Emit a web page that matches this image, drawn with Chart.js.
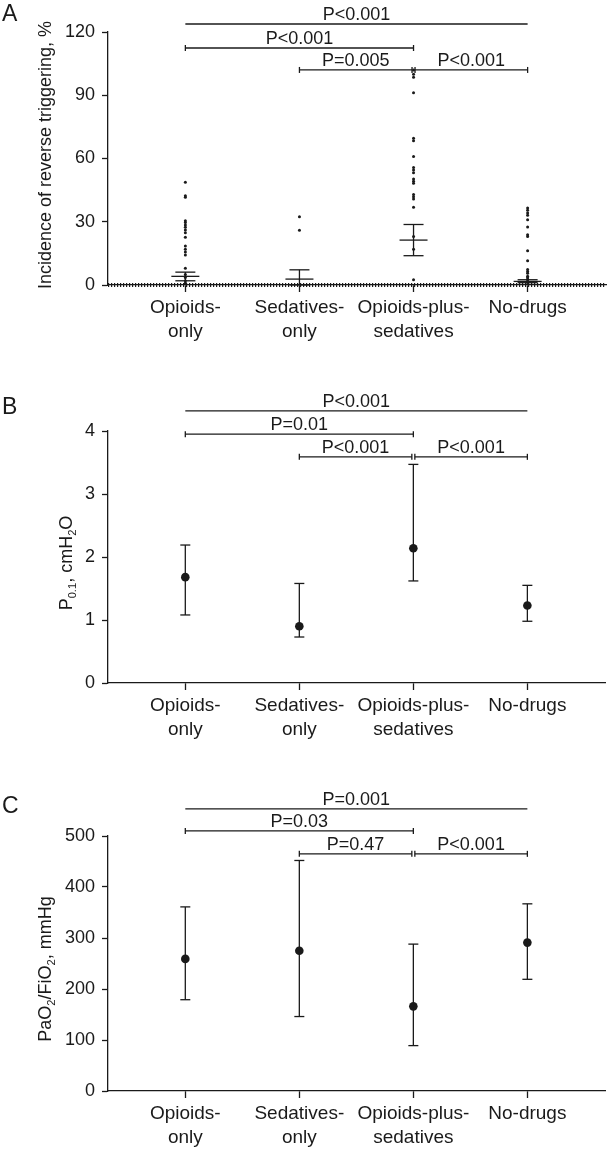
<!DOCTYPE html>
<html>
<head>
<meta charset="utf-8">
<script src="https://cdn.jsdelivr.net/npm/chart.js@4.4.0/dist/chart.umd.min.js"></script>
<style>
  body { margin: 0; background: #fff; width: 610px; height: 1151px; position: relative; overflow: hidden; }
  canvas { position: absolute; left: 0; }
</style>
</head>
<body>
<canvas id="chartA" width="610" height="350" style="top:0px"></canvas>
<canvas id="chartB" width="610" height="400" style="top:360px"></canvas>
<canvas id="chartC" width="610" height="391" style="top:760px"></canvas>
<script>
const groups = [["Opioids-", "only"], ["Sedatives-", "only"], ["Opioids-plus-", "sedatives"], ["No-drugs"]];

// A - incidence of reverse triggering, % (non-zero patients; zeros sit on the axis)
const rtOpioids = [48.7, 42.3, 41.6, 30.5, 29.6, 28.5, 27.4, 26.1, 24.8, 22.7, 18.5, 17, 15.7, 14.2, 8, 5, 3.5, 2, 1];
const rtSedatives = [32.4, 26];
const rtCombined = [102, 100, 98.5, 91.2, 69.6, 68.4, 60.9, 55.7, 54.5, 53.2, 50.3, 49.2, 48.3, 42.9, 41.8, 40.8, 36.9, 23, 17, 2.5];
const rtNoDrugs = [36.5, 35.4, 34.2, 33.1, 30.9, 27.5, 23.8, 23, 16.3, 11.5, 7.3, 6.4, 5.6, 4.2, 3.4, 2.6, 1.8, 1.2];
const rtMid = [4.1, 2.8, 21.3, 1.7];
const rtLow = [2.0, 0, 13.9, 1.1];
const rtHigh = [6.1, 7.2, 28.7, 2.5];
const rtTicks = [0, 30, 60, 90, 120];

// B - P0.1, cmH2O
const p01Mean = [1.68, 0.9, 2.14, 1.23];
const p01Low = [1.08, 0.73, 1.62, 0.98];
const p01High = [2.19, 1.58, 3.47, 1.55];
const p01Ticks = [0, 1, 2, 3, 4];

// C - PaO2/FiO2, mmHg
const pfMean = [259, 275, 166, 291];
const pfLow = [179, 146, 89, 219];
const pfHigh = [361, 452, 288, 367];
const pfTicks = [0, 100, 200, 300, 400, 500];

// significance brackets: [from group, to group, level, label]
const rtPvals = [[1, 4, 123.8, "P<0.001"], [1, 3, 112.4, "P<0.001"], [2, 3, 102, "P=0.005"], [3, 4, 102, "P<0.001"]];
const p01Pvals = [[1, 4, 4.32, "P<0.001"], [1, 3, 3.95, "P=0.01"], [2, 3, 3.59, "P<0.001"], [3, 4, 3.59, "P<0.001"]];
const pfPvals = [[1, 4, 553, "P=0.001"], [1, 3, 510, "P=0.03"], [2, 3, 465, "P=0.47"], [3, 4, 465, "P<0.001"]];

const FONT = "'Liberation Sans', Arial, Helvetica, sans-serif";
const INK = "#1a1a1a";

function line(ctx, x1, y1, x2, y2) {
  ctx.beginPath();
  ctx.moveTo(x1, y1);
  ctx.lineTo(x2, y2);
  ctx.stroke();
}

// title with subscript pieces: [[text, isSub], ...], rotated
function drawTitle(ctx, parts, cx, cy, size) {
  ctx.save();
  ctx.translate(cx, cy);
  ctx.rotate(-Math.PI / 2);
  const subSize = size * 0.62;
  let w = 0;
  parts.forEach(([t, sub]) => {
    ctx.font = (sub ? subSize : size) + "px " + FONT;
    w += ctx.measureText(t).width;
  });
  let xx = -w / 2;
  ctx.textBaseline = "alphabetic";
  ctx.textAlign = "left";
  parts.forEach(([t, sub]) => {
    ctx.font = (sub ? subSize : size) + "px " + FONT;
    ctx.fillText(t, xx, size * 0.36 + (sub ? size * 0.22 : 0));
    xx += ctx.measureText(t).width;
  });
  ctx.restore();
}

const decor = {
  id: "decor",
  afterDatasetsDraw(chart, args, opts) {
    const { ctx, chartArea } = chart;
    const x = chart.scales.x, y = chart.scales.y;
    ctx.save();
    ctx.strokeStyle = INK;
    ctx.fillStyle = INK;
    ctx.lineWidth = 1.3;

    if (opts.zeroDots) {
      const y0 = y.getPixelForValue(0);
      ctx.save();
      ctx.setLineDash([1.2, 1.8]);
      ctx.lineWidth = 4;
      line(ctx, chartArea.left, y0, chartArea.right, y0);
      ctx.restore();
    }

    const b = opts.bars;
    b.high.forEach((hi, i) => {
      const px = x.getPixelForValue(i + 1);
      const top = y.getPixelForValue(hi);
      const bot = y.getPixelForValue(b.low[i]);
      line(ctx, px, top, px, bot);
      line(ctx, px - b.cap, top, px + b.cap, top);
      line(ctx, px - b.cap, bot, px + b.cap, bot);
      if (b.mid) {
        const my = y.getPixelForValue(b.mid[i]);
        line(ctx, px - b.midW, my, px + b.midW, my);
      }
    });

    // significance brackets
    ctx.font = "18px " + FONT;
    ctx.textAlign = "center";
    ctx.textBaseline = "alphabetic";
    opts.pvals.forEach(([a, c, lvl, txt], i) => {
      let x1 = x.getPixelForValue(a), x2 = x.getPixelForValue(c);
      if (i > 1) { if (a === 3) x1 += 1.5; else x2 -= 1.5; }
      const py = y.getPixelForValue(lvl);
      line(ctx, x1, py, x2, py);
      if (i > 0) {
        line(ctx, x1, py - 3, x1, py + 3);
        line(ctx, x2, py - 3, x2, py + 3);
      }
      ctx.fillText(txt, (x1 + x2) / 2, py - 4);
    });

    // panel letter
    ctx.font = "23px " + FONT;
    ctx.textAlign = "left";
    ctx.textBaseline = "middle";
    ctx.fillText(opts.letter, 2, opts.letterY);

    drawTitle(ctx, opts.title, opts.titleX, opts.titleY, 18);
    ctx.restore();
  }
};

function scalesFor(yMax, yTicks, xHeight) {
  return {
    x: {
      type: "linear", min: 0.322, max: 4.687,
      afterBuildTicks: s => { s.ticks = groups.map((g, i) => ({ value: i + 1 })); },
      afterFit: s => { s.height = xHeight; },
      ticks: {
        callback: (v, i) => groups[i],
        color: INK, font: { size: 19, family: FONT, lineHeight: 1.25 },
        padding: 4, maxRotation: 0, autoSkip: false
      },
      grid: { drawOnChartArea: false, tickLength: 7, tickColor: INK, tickWidth: 1.3 },
      border: { color: INK, width: 1.3 }
    },
    y: {
      min: 0, max: yMax,
      afterBuildTicks: s => { s.ticks = yTicks.map(v => ({ value: v })); },
      afterFit: s => { s.width = 108; },
      ticks: { color: INK, font: { size: 18, family: FONT }, padding: 7 },
      grid: { drawOnChartArea: false, tickLength: 6, tickColor: INK, tickWidth: 1.3 },
      border: { color: INK, width: 1.3 }
    }
  };
}

function makeChart(id, datasets, yMax, yTicks, xHeight, padTop, decorOpts) {
  return new Chart(document.getElementById(id), {
    type: "scatter",
    data: { datasets },
    options: {
      responsive: false,
      animation: false,
      layout: { padding: { top: padTop, left: 0, right: 0, bottom: 0 } },
      scales: scalesFor(yMax, yTicks, xHeight),
      plugins: { legend: { display: false }, tooltip: { enabled: false }, decor: decorOpts }
    },
    plugins: [decor]
  });
}

const dotStyle = { pointRadius: 1.5, pointBackgroundColor: INK, pointBorderWidth: 0, showLine: false };
const toPts = (arr, g) => arr.map(v => ({ x: g, y: v }));

makeChart("chartA", [
  { data: toPts(rtOpioids, 1), ...dotStyle },
  { data: toPts(rtSedatives, 2), ...dotStyle },
  { data: toPts(rtCombined, 3), ...dotStyle },
  { data: toPts(rtNoDrugs, 4), ...dotStyle }
], 120, rtTicks, 65, 32, {
  zeroDots: true,
  bars: { low: rtLow, high: rtHigh, mid: rtMid, cap: 10, midW: 14 },
  pvals: rtPvals, letter: "A", letterY: 15,
  title: [["Incidence of reverse triggering, %", false]], titleX: 45, titleY: 155
});

makeChart("chartB", [
  { data: p01Mean.map((v, i) => ({ x: i + 1, y: v })), pointRadius: 4.3, pointBackgroundColor: INK, pointBorderWidth: 0 }
], 4, p01Ticks, 77, 71, {
  bars: { low: p01Low, high: p01High, cap: 5 },
  pvals: p01Pvals, letter: "B", letterY: 48,
  title: [["P", false], ["0.1", true], [", cmH", false], ["2", true], ["O", false]], titleX: 66, titleY: 203
});

makeChart("chartC", [
  { data: pfMean.map((v, i) => ({ x: i + 1, y: v })), pointRadius: 4.3, pointBackgroundColor: INK, pointBorderWidth: 0 }
], 500, pfTicks, 60, 76, {
  bars: { low: pfLow, high: pfHigh, cap: 5 },
  pvals: pfPvals, letter: "C", letterY: 47,
  title: [["PaO", false], ["2", true], ["/FiO", false], ["2", true], [", mmHg", false]], titleX: 45, titleY: 209
});
</script>
</body>
</html>
